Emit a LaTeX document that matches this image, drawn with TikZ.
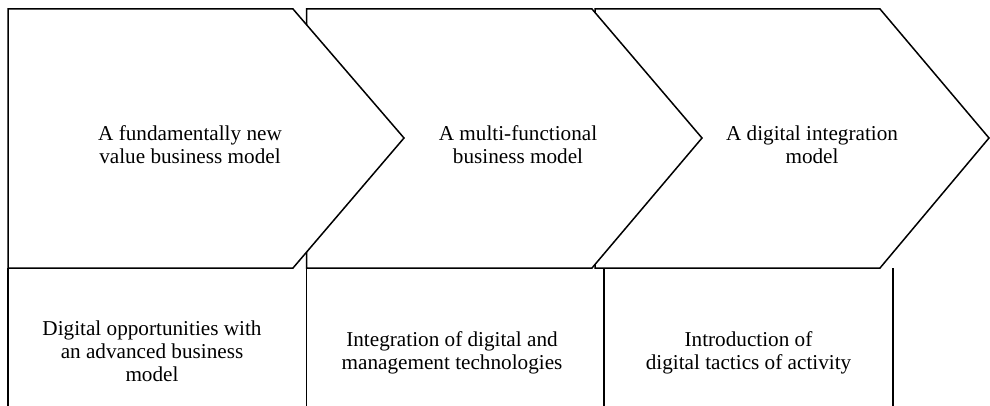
\documentclass[tikz,border=0pt]{standalone}
\usepackage{fontspec}
\setmainfont{Liberation Serif}
\begin{document}
\begin{tikzpicture}[x=1pt,y=-1pt,
  outline/.style={draw=black,line width=1.5pt,fill=white,line join=miter},
  divider/.style={draw=black,line width=1.5pt},
  label/.style={align=center,inner sep=0pt,font=\fontsize{21.2}{23.2}\selectfont}]
\useasboundingbox[fill=white] (0,0) rectangle (990,406);
% bottom column dividers
\coordinate (d0t) at (8,268);   \coordinate (d0b) at (8,412);
\coordinate (d1t) at (306.5,268); \coordinate (d1b) at (306.5,412);
\coordinate (d2t) at (604,268); \coordinate (d2b) at (604,412);
\coordinate (d3t) at (893,268); \coordinate (d3b) at (893,412);
\draw[divider] (d0t) -- (d0b);
\draw[divider] (d1t) -- (d1b);
\draw[divider] (d2t) -- (d2b);
\draw[divider] (d3t) -- (d3b);
% chevrons, drawn from right to left so that each covers the next one's left edge
\draw[outline] (595,9) -- (880,9) -- (989,138) -- (880,268) -- (595,268) -- cycle;
\draw[outline] (306.5,9) -- (592,9) -- (702,138) -- (592,268) -- (306.5,268) -- cycle;
\draw[outline] (8,9) -- (293,9) -- (404,138) -- (293,268) -- (8,268) -- cycle;
% texts
\node[label] (t1) at (190,145) {A fundamentally new\\value business model};
\node[label] (t2) at (518,145) {A multi-functional\\business model};
\node[label] (t3) at (812,145) {A digital integration\\model};
\node[label] (b1) at (152,351) {Digital opportunities with\\an advanced business\\model};
\node[label] (b2) at (452,353) {Integration of digital and\\management technologies};
\node[label] (b3) at (748.5,353) {Introduction of\\digital tactics of activity};
\end{tikzpicture}
\end{document}
